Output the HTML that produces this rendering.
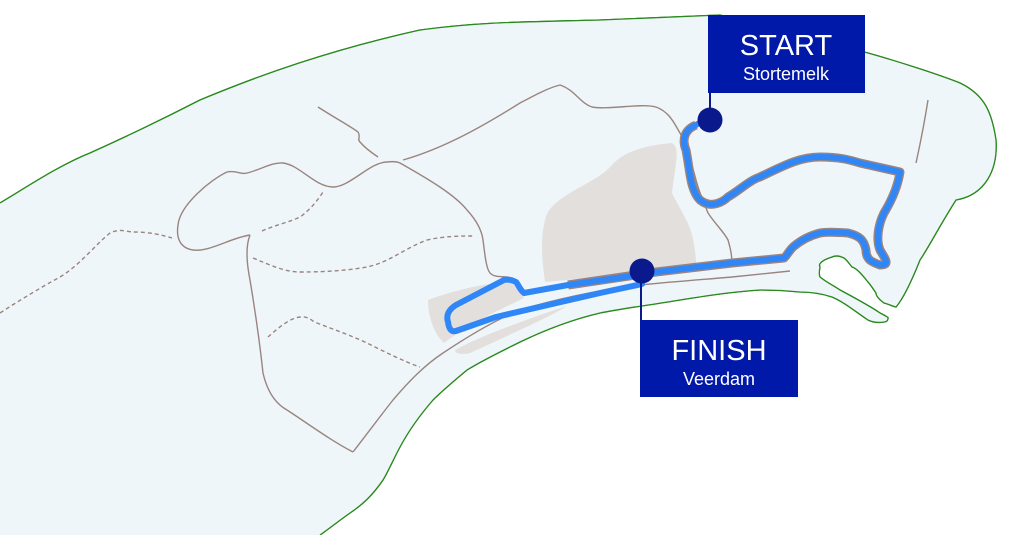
<!DOCTYPE html>
<html><head><meta charset="utf-8"><style>
html,body{margin:0;padding:0;background:#fff;width:1024px;height:535px;overflow:hidden}
svg{display:block}
text{font-family:"Liberation Sans",sans-serif;fill:#fff}
</style></head><body>
<svg width="1024" height="535" viewBox="0 0 1024 535" xmlns="http://www.w3.org/2000/svg">
<!-- island -->
<path id="isl" d="M0,203 C30,185 60,165 90,153 C130,135 165,118 200,100 C260,75 330,50 420,30 C480,22 520,22 600,20 L720,15 L868,53 C900,62 940,75 960,83 C985,95 992,113 996,140 C998,170 985,195 956,200 C940,225 930,245 920,260 C910,285 902,300 896,307 C892,306 888,304 884,303 C880,300 876,296 876,293 C872,287 870,284 868,282 C860,272 856,268 852,267 C848,262 846,259 844,258 C838,255 834,256 832,257 C822,260 818,264 820,267 C819,272 819,275 820,277 C826,282 834,286 840,290 C855,298 870,306 880,313 C886,316 889,318 888,318 C888,321 886,322 884,322 C878,323 872,322 868,320 C856,312 844,302 832,297 C820,293 810,292 800,292 C780,290 770,290 760,290 C730,292 705,296 680,300 C650,305 625,308 600,313 C570,320 545,330 520,342 C500,352 483,360 467,370 C455,380 443,390 433,400 C420,415 408,432 400,447 C392,462 388,472 383,480 C372,496 362,505 350,513 C340,520 330,528 320,535" fill="none" stroke="#2a8a1e" stroke-width="1.3"/>
<path d="M0,203 C30,185 60,165 90,153 C130,135 165,118 200,100 C260,75 330,50 420,30 C480,22 520,22 600,20 L720,15 L868,53 C900,62 940,75 960,83 C985,95 992,113 996,140 C998,170 985,195 956,200 C940,225 930,245 920,260 C910,285 902,300 896,307 C892,306 888,304 884,303 C880,300 876,296 876,293 C872,287 870,284 868,282 C860,272 856,268 852,267 C848,262 846,259 844,258 C838,255 834,256 832,257 C822,260 818,264 820,267 C819,272 819,275 820,277 C826,282 834,286 840,290 C855,298 870,306 880,313 C886,316 889,318 888,318 C888,321 886,322 884,322 C878,323 872,322 868,320 C856,312 844,302 832,297 C820,293 810,292 800,292 C780,290 770,290 760,290 C730,292 705,296 680,300 C650,305 625,308 600,313 C570,320 545,330 520,342 C500,352 483,360 467,370 C455,380 443,390 433,400 C420,415 408,432 400,447 C392,462 388,472 383,480 C372,496 362,505 350,513 C340,520 330,528 320,535 L0,535 Z" fill="#eff6f9"/>
<use href="#isl"/>
<!-- beige areas -->
<path d="M612,165 C625,150 650,145 672,143 C680,148 676,160 672,193 C680,210 692,225 694,245 C696,255 696,262 696,266 L620,275 L545,282 C542,260 540,240 545,220 C550,195 595,185 612,165 Z" fill="#e3dfdc"/>
<path d="M428,300 C450,292 475,285 505,282 C515,283 522,290 524,298 C500,310 475,320 444,343 C435,335 428,318 428,300 Z" fill="#e3dfdc"/>
<path d="M455,350 C480,336 520,322 566,306 C560,312 520,330 470,353 C462,355 455,354 455,350 Z" fill="#e3dfdc"/>
<!-- roads -->
<g fill="none" stroke="#9a8480" stroke-width="1.4">
<path d="M353,452 C370,430 385,410 393,400 C410,380 425,365 443,353 C470,335 495,320 520,310 C560,298 600,290 640,285 C680,281 710,279 732,277 L790,271"/>
<path d="M250,235 C246,245 246,260 250,280 C255,310 260,345 263,373 C268,395 278,405 287,410 C310,425 330,440 353,452"/>
<path d="M250,235 C230,238 210,252 193,250 C180,248 176,238 178,225 C180,205 210,180 227,172 C237,170 240,175 247,173 C260,170 272,162 283,163 C300,165 315,187 333,187 C350,187 370,162 387,162 C395,161 398,162 400,163 C430,180 455,195 467,210 C478,222 482,232 483,240 C485,255 486,268 490,273 C495,278 502,276 507,277 C514,278 518,282 520,288"/>
<path d="M318,107 C335,118 350,126 358,132 C361,136 357,140 360,142 C365,148 372,153 378,157"/>
<path d="M403,160 C445,148 485,125 520,103 C535,95 548,88 560,85 C575,90 580,103 592,107 C610,110 640,103 656,107 C670,112 675,125 680,133 C688,150 692,165 696,180 C700,195 705,205 708,213 C716,225 724,232 728,240 C731,250 732,257 732,263"/>
<path d="M928,100 C924,125 920,145 916,163"/>
<g stroke-dasharray="4,3">
<path d="M0,313 C20,300 40,288 60,277 C80,265 95,245 110,233 C120,228 128,232 133,232 C150,232 162,235 172,238"/>
<path d="M262,231 C275,225 290,222 300,217 C310,210 318,200 323,192"/>
<path d="M253,258 C270,265 285,272 300,272 C330,272 350,270 367,267 C390,262 405,248 427,240 C445,236 460,236 473,236"/>
<path d="M268,337 C278,328 290,318 300,317 C310,316 312,322 317,323 C335,330 350,335 367,343 C385,352 405,362 420,367"/>
</g>
</g>
<!-- route brown border -->
<path d="M696,125 C684,130 682,140 686,150 C690,170 690,190 700,200 C712,210 725,200 728,197 C740,190 750,180 760,177 C785,165 800,157 820,157 C840,157 850,160 860,163 L900,172 C898,185 892,200 884,213 C878,225 876,240 880,250 C886,260 890,265 880,265 C872,262 866,260 866,250 C864,240 860,236 848,233 C835,232 825,232 820,233 C808,236 800,241 793,247 C788,252 786,257 784,258 L732,263 L656,272 L568,285" fill="none" stroke="#9a8480" stroke-width="9" stroke-linejoin="round"/>
<!-- route -->
<g fill="none" stroke="#2f86f6" stroke-width="6" stroke-linejoin="round" stroke-linecap="round">
<path d="M710,120 C700,122 696,125 696,125 C684,130 682,140 686,150 C690,170 690,190 700,200 C712,210 725,200 728,197 C740,190 750,180 760,177 C785,165 800,157 820,157 C840,157 850,160 860,163 L900,172 C898,185 892,200 884,213 C878,225 876,240 880,250 C886,260 890,265 880,265 C872,262 866,260 866,250 C864,240 860,236 848,233 C835,232 825,232 820,233 C808,236 800,241 793,247 C788,252 786,257 784,258 L732,263 L656,272 L624,277 L568,285 L524,293 C520,290 518,284 516,282 C512,280 508,279 504,280 L456,305 C448,310 446,316 448,322 C449,330 452,332 456,331 L496,317 L600,293 L642,284"/>
</g>
<!-- labels -->
<line x1="710" y1="90" x2="710" y2="120" stroke="#0a1a8c" stroke-width="2"/>
<line x1="641" y1="270" x2="641" y2="322" stroke="#0a1a8c" stroke-width="2"/>
<circle cx="710" cy="120" r="12.5" fill="#0a1a8c"/>
<circle cx="642" cy="271" r="12.5" fill="#0a1a8c"/>
<rect x="708" y="15" width="157" height="78" fill="#0019a8"/>
<rect x="640" y="320" width="158" height="77" fill="#0019a8"/>
<text x="786" y="55" font-size="29" text-anchor="middle">START</text>
<text x="786" y="80" font-size="18" text-anchor="middle">Stortemelk</text>
<text x="719" y="360" font-size="29" text-anchor="middle">FINISH</text>
<text x="719" y="385" font-size="18" text-anchor="middle">Veerdam</text>
</svg>
</body></html>
